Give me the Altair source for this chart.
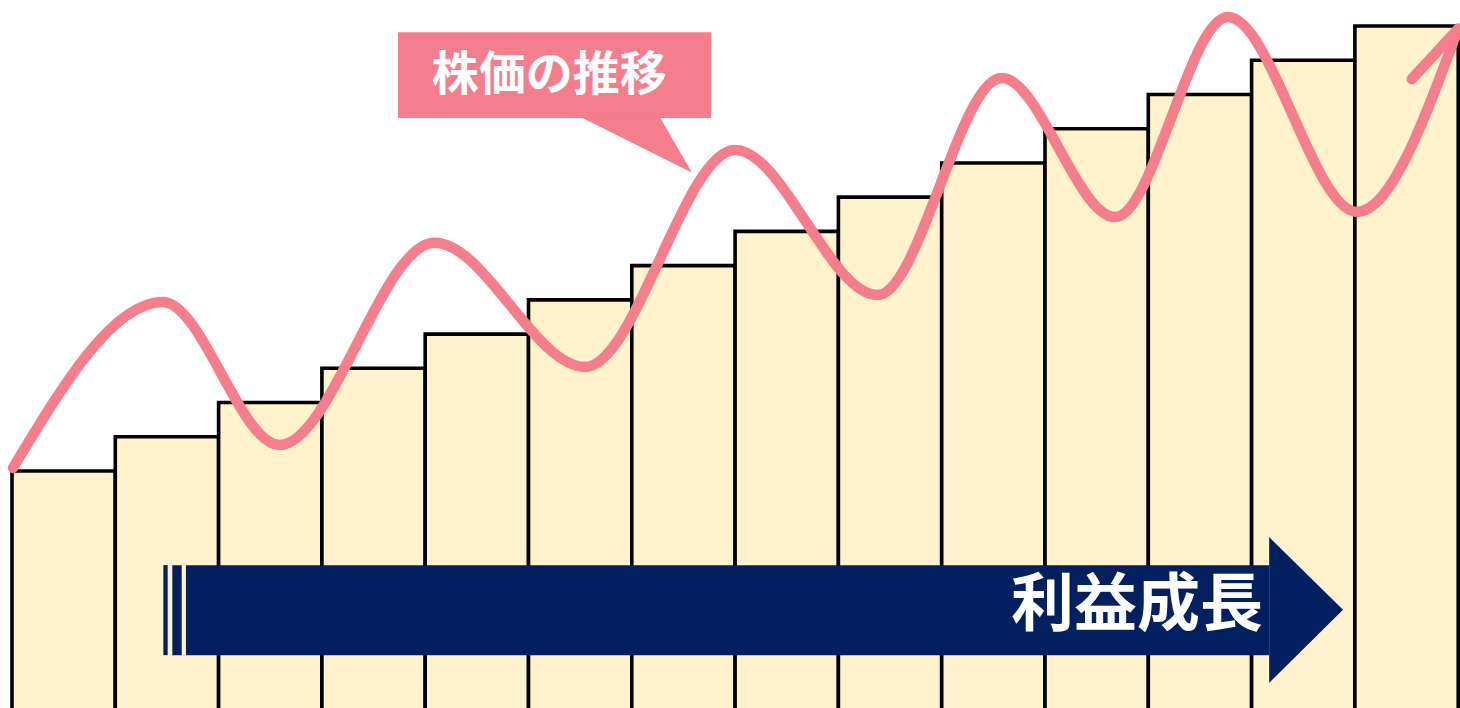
import altair as alt
import pandas as pd

# ---- data ----
periods = list(range(14))
profit = [7, 8, 9, 10, 11, 12, 13, 14, 15, 16, 17, 18, 19, 20]

# stock price: start, alternating peaks / troughs, end
price_t = [0.01, 1.46, 2.59, 4.09, 5.55, 7.00, 8.38, 9.58, 10.68, 11.77, 13.02, 14.00]
price_v = [7.09, 11.94, 7.76, 13.67, 10.04, 16.38, 12.14, 18.48, 14.42, 20.26, 14.57, 19.92]

head_t = [13.55, 14.00]
head_v = [18.45, 19.92]

price_label = "株価の推移"
profit_label = "利益成長"

PINK = "#F47E8B"
NAVY = "#022060"
CREAM = "#FFF2CD"

xs = alt.Scale(domain=[-0.1162, 14.0174], nice=False, zero=False)
ys = alt.Scale(domain=[0.076, 20.76], nice=False, zero=False)
X = lambda f: alt.X(f, type="quantitative", scale=xs, axis=None)
Y = lambda f: alt.Y(f, type="quantitative", scale=ys, axis=None)

bars_df = pd.DataFrame({"period": periods, "profit": profit})
bars = alt.Chart(bars_df).transform_calculate(
    end="datum.period + 1", base="0"
).mark_rect(fill=CREAM, stroke="black", strokeWidth=3.6).encode(
    x=X("period"), x2="end:Q", y=Y("profit"), y2="base:Q"
)

# navy growth arrow (annotation shape)
body_df = pd.DataFrame({
    "x0": [1.465, 1.552, 1.684], "x1": [1.507, 1.643, 12.17],
    "y0": [1.62, 1.62, 1.62], "y1": [4.25, 4.25, 4.25]})
body = alt.Chart(body_df).mark_rect(fill=NAVY).encode(
    x=X("x0"), x2="x1:Q", y=Y("y0"), y2="y1:Q")
head_df = pd.DataFrame({"x": [12.17, 12.885], "ytop": [5.07, 2.95], "ybot": [0.81, 2.95]})
head = alt.Chart(head_df).mark_area(fill=NAVY, orient="vertical").encode(
    x=X("x"), y=Y("ytop"), y2="ybot:Q")
profit_txt = alt.Chart(pd.DataFrame({"x": [10.89], "y": [3.06], "t": [profit_label]})).mark_text(
    font="Noto Sans CJK JP", fontWeight="bold", fontSize=63, color="white",
    align="center", baseline="middle").encode(x=X("x"), y=Y("y"), text="t:N")

# callout
call_df = pd.DataFrame({"x0": [3.737], "x1": [6.767], "y0": [17.31], "y1": [19.82]})
call = alt.Chart(call_df).mark_rect(fill=PINK).encode(
    x=X("x0"), x2="x1:Q", y=Y("y0"), y2="y1:Q")
ptr_df = pd.DataFrame({"y": [17.35, 15.71], "xa": [5.50, 6.583], "xb": [6.27, 6.583]})
ptr = alt.Chart(ptr_df).mark_area(fill=PINK, orient="horizontal").encode(
    y=Y("y"), x=X("xa"), x2="xb:Q")
call_txt = alt.Chart(pd.DataFrame({"x": [5.20], "y": [18.55], "t": [price_label]})).mark_text(
    font="Noto Sans CJK JP", fontWeight="bold", fontSize=47, color="white",
    align="center", baseline="middle").encode(x=X("x"), y=Y("y"), text="t:N")

line_df = pd.DataFrame({"t": price_t, "v": price_v})
line = alt.Chart(line_df).mark_line(
    color=PINK, strokeWidth=10.5, strokeCap="round", strokeJoin="round", interpolate="monotone"
).encode(x=X("t"), y=Y("v"))
arrow_df = pd.DataFrame({"t": head_t, "v": head_v})
arrow = alt.Chart(arrow_df).mark_line(
    color=PINK, strokeWidth=10.5, strokeCap="round"
).encode(x=X("t"), y=Y("v"))

chart = alt.layer(bars, body, head, profit_txt, call, ptr, call_txt, line, arrow).properties(
    width=1460, height=708, padding=0, autosize=alt.AutoSizeParams(type="none"),
    background="white"
).configure_view(stroke=None)

chart.save("out.html", embed_options={"renderer": "svg", "actions": False})
